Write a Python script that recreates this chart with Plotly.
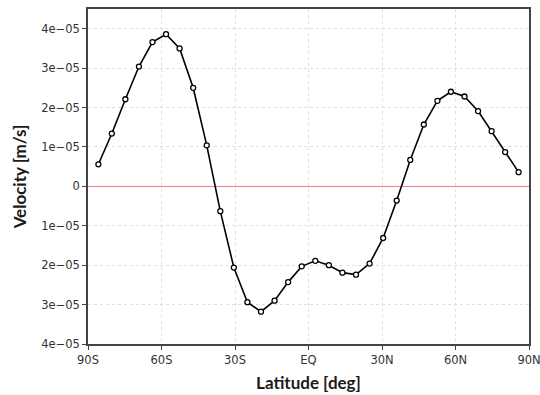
import plotly.graph_objects as go

lat = [-85.76, -80.27, -74.74, -69.21, -63.68, -58.14, -52.61, -47.07, -41.54, -36.00,
       -30.47, -24.93, -19.39, -13.85, -8.31, -2.77, 2.77, 8.31, 13.85, 19.39,
       24.93, 30.47, 36.00, 41.54, 47.07, 52.61, 58.14, 63.68, 69.21, 74.74, 80.27, 85.76]
vel_e5 = [0.56, 1.34, 2.21, 3.04, 3.66, 3.86, 3.50, 2.50, 1.04, -0.63,
          -2.06, -2.94, -3.18, -2.90, -2.43, -2.03, -1.89, -2.00, -2.19, -2.24,
          -1.96, -1.31, -0.36, 0.67, 1.57, 2.17, 2.40, 2.28, 1.91, 1.40, 0.87, 0.36]
velocity = [v * 1e-5 for v in vel_e5]

x_tickvals = [-90, -60, -30, 0, 30, 60, 90]
x_ticktext = ["90S", "60S", "30S", "EQ", "30N", "60N", "90N"]
y_tickvals = [-4e-5, -3e-5, -2e-5, -1e-5, 0, 1e-5, 2e-5, 3e-5, 4e-5]
y_ticktext = ["4e\u221205", "3e\u221205", "2e\u221205", "1e\u221205", "0",
              "1e\u221205", "2e\u221205", "3e\u221205", "4e\u221205"]

fig = go.Figure()
fig.add_trace(go.Scatter(
    x=lat, y=velocity, mode="lines+markers",
    line=dict(color="black", width=1.6),
    marker=dict(symbol="circle", size=5, color="white",
                line=dict(color="black", width=1.3)),
    showlegend=False, cliponaxis=False,
))

tick_font = dict(family="DejaVu Sans", size=11.5, color="#333333")
title_font = dict(family="Lato", size=17, color="#1a1a1a", weight=700)

fig.update_layout(
    width=540, height=395,
    margin=dict(l=88, r=11, t=9, b=51, autoexpand=False),
    plot_bgcolor="white", paper_bgcolor="white",
    xaxis=dict(
        range=[-90, 90], tickvals=x_tickvals, ticktext=x_ticktext,
        showgrid=True, gridcolor="#e0e0e0", griddash="dot", gridwidth=1,
        showline=True, linecolor="#444444", linewidth=1.5, mirror=True,
        ticks="outside", ticklen=4, tickcolor="#444444", tickfont=tick_font,
        zeroline=False, automargin=False, ticklabeloverflow="allow",
        title=dict(text="Latitude [deg]", font=title_font, standoff=12),
    ),
    yaxis=dict(
        range=[-4e-5, 4.5e-5], tickvals=y_tickvals, ticktext=y_ticktext,
        showgrid=True, gridcolor="#e0e0e0", griddash="dot", gridwidth=1,
        showline=True, linecolor="#444444", linewidth=1.5, mirror=True,
        ticks="outside", ticklen=4, tickcolor="#444444", tickfont=tick_font,
        zeroline=True, zerolinecolor="#f08080", zerolinewidth=1.2,
        automargin=False, ticklabeloverflow="allow",
        title=dict(text="Velocity [m/s]", font=title_font, standoff=10),
    ),
)

fig.write_html(
    "out.html",
    config={"displayModeBar": False},
    post_script="document.body.style.margin='0';document.body.style.overflow='hidden';",
)
